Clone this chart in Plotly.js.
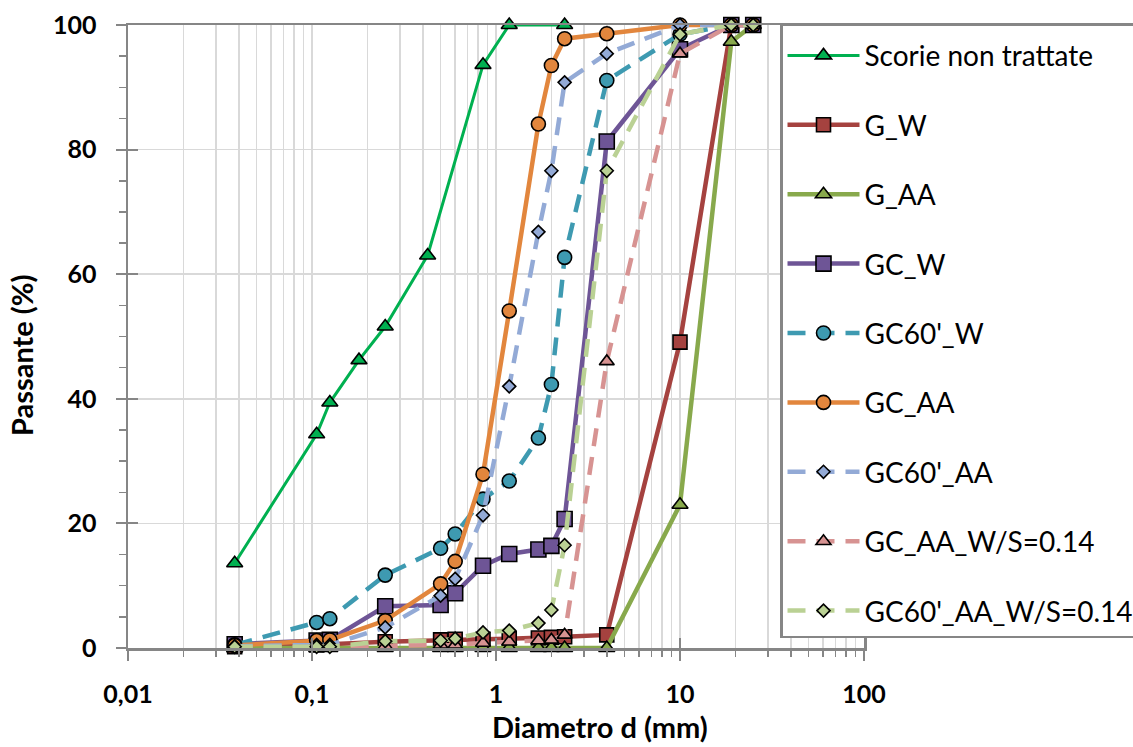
<!DOCTYPE html>
<html>
<head>
<meta charset="utf-8">
<script src="https://cdn.plot.ly/plotly-3.0.1.min.js"></script>
<style>
  html, body { margin: 0; padding: 0; background: #fff; }
  #chart { width: 1133px; height: 747px; }
</style>
</head>
<body>
<div id="chart"></div>
<script>
// ---- data (diameter in mm, passante in %) ----
const seriesNames = ["Scorie non trattate", "G_W", "G_AA", "GC_W", "GC60'_W", "GC_AA", "GC60'_AA", "GC_AA_W/S=0.14", "GC60'_AA_W/S=0.14"];

const dScorie = [0.038, 0.106, 0.125, 0.18, 0.25, 0.425, 0.85, 1.18, 2.36];
const pScorie = [13.6, 34.3, 39.4, 46.2, 51.6, 63.0, 93.6, 100, 100];

const dSieve = [0.038, 0.106, 0.125, 0.25, 0.5, 0.6, 0.85, 1.18, 1.7, 2, 2.36, 4, 10, 19, 25];
const pG_W      = [0.2, 0.5, 0.6, 1.0, 1.3, 1.4, 1.4, 1.5, 1.6, 1.7, 1.8, 2.1, 49.1, 100, 100];
const pG_AA     = [0, 0, 0, 0, 0, 0, 0, 0, 0, 0, 0, 0, 23.0, 97.3, 100];
const pGC_W     = [0.6, 1.2, 1.3, 6.7, 6.9, 8.8, 13.2, 15.1, 15.8, 16.4, 20.7, 81.3, 96.1, 100, 100];
const pGC60_W   = [0.5, 4.1, 4.7, 11.7, 16.0, 18.3, 23.9, 26.8, 33.7, 42.3, 62.7, 91.1, 98.5, 100, 100];
const pGC_AA    = [0.4, 1.2, 1.3, 4.4, 10.3, 13.9, 27.9, 54.1, 84.1, 93.5, 97.8, 98.6, 100, 100, 100];
const pGC60_AA  = [0.3, 0.5, 0.5, 3.3, 8.4, 11.1, 21.3, 42.0, 66.8, 76.6, 90.8, 95.4, 100, 100, 100];
const pGC_AA_WS = [0, 0.2, 0.2, 0.3, 0.5, 0.5, 0.8, 1.0, 1.2, 1.3, 2.1, 46.0, 95.4, 100, 100];
const pGC60_AA_WS = [0.2, 0.2, 0.2, 1.1, 1.2, 1.5, 2.5, 2.8, 4.0, 6.1, 16.5, 76.6, 98.5, 100, 100];

// ---- axis ticks ----
const xTickVals = [0.01, 0.1, 1, 10, 100];
const xTickText = ["0,01", "0,1", "1", "10", "100"];
const yTickVals = [0, 20, 40, 60, 80, 100];
const yTickText = ["0", "20", "40", "60", "80", "100"];
const xMinorMult = [2, 3, 4, 5, 6, 7, 8, 9];

const xMinorVals = [];
[0.01, 0.1, 1, 10].forEach(dec => xMinorMult.forEach(m => xMinorVals.push(+(dec * m).toPrecision(3))));

// ---- styles ----
const styles = [
  {color: "#00B050", fill: "#00B050", symbol: "triangle-up", size: 14, width: 3, dash: "solid"},
  {color: "#A5423F", fill: "#A5423F", symbol: "square", size: 14, width: 4.5, dash: "solid"},
  {color: "#88A94C", fill: "#88A94C", symbol: "triangle-up", size: 14, width: 4.5, dash: "solid"},
  {color: "#6E5596", fill: "#6E5596", symbol: "square", size: 15, width: 4.5, dash: "solid"},
  {color: "#3E9AB1", fill: "#3E9AB1", symbol: "circle", size: 14, width: 4.5, dash: "18px,11px"},
  {color: "#E2863D", fill: "#E2863D", symbol: "circle", size: 14, width: 4.5, dash: "solid"},
  {color: "#93AAD6", fill: "#93AAD6", symbol: "diamond", size: 10, width: 4.5, dash: "18px,11px"},
  {color: "#D79392", fill: "#D79392", symbol: "triangle-up", size: 13, width: 4.5, dash: "18px,11px"},
  {color: "#BAD194", fill: "#BAD194", symbol: "diamond", size: 10, width: 4.5, dash: "18px,11px"}
];

const xs = [dScorie, dSieve, dSieve, dSieve, dSieve, dSieve, dSieve, dSieve, dSieve];
const ys = [pScorie, pG_W, pG_AA, pGC_W, pGC60_W, pGC_AA, pGC60_AA, pGC_AA_WS, pGC60_AA_WS];

const traces = seriesNames.map((name, i) => ({
  type: "scatter",
  mode: "lines+markers",
  name: name,
  x: xs[i],
  y: ys[i],
  legendgroup: "g" + i,
  cliponaxis: false,
  line: {color: styles[i].color, width: styles[i].width, dash: styles[i].dash},
  marker: {symbol: styles[i].symbol, size: styles[i].size, color: styles[i].fill,
           line: {color: "#000000", width: 1.6}}
}));

// helper trace for overlay axes (inside major ticks)
traces.push({type: "scatter", x: [], y: [], xaxis: "x2", yaxis: "y2", showlegend: false, hoverinfo: "skip"});

const AX = "#868686";
const GRID = "#D9D9D9";
const tickFont = {family: "Lato, 'Liberation Sans', sans-serif", size: 25, color: "#000", weight: 700};
const titleFont = {family: "Lato, 'Liberation Sans', sans-serif", size: 29, color: "#000", weight: 700};

const layout = {
  width: 1133,
  height: 747,
  paper_bgcolor: "#ffffff",
  plot_bgcolor: "#ffffff",
  margin: {l: 128, r: 269, t: 25, b: 99, pad: 0, autoexpand: false},
  showlegend: true,
  xaxis: {
    type: "log",
    range: [-2, 2],
    tickmode: "array",
    tickvals: xTickVals,
    ticktext: xTickText,
    ticks: "outside",
    ticklen: 10,
    tickwidth: 2,
    tickcolor: AX,
    ticklabelstandoff: 12,
    tickfont: tickFont,
    showgrid: true,
    gridcolor: GRID,
    gridwidth: 1.5,
    minor: {tickmode: "array", tickvals: xMinorVals, ticks: "outside", ticklen: 6, tickwidth: 1.5,
            tickcolor: AX, showgrid: true, gridcolor: GRID, gridwidth: 1.5},
    showline: true,
    linecolor: AX,
    linewidth: 2.5,
    mirror: true,
    zeroline: false,
    automargin: false
  },
  yaxis: {
    range: [0, 100],
    tickmode: "array",
    tickvals: yTickVals,
    ticktext: yTickText,
    ticks: "outside",
    ticklen: 10,
    tickwidth: 2,
    tickcolor: AX,
    ticklabelstandoff: 14,
    tickfont: tickFont,
    showgrid: true,
    gridcolor: GRID,
    gridwidth: 1.5,
    minor: {dtick: 5, ticks: "outside", ticklen: 7, tickwidth: 1.5, tickcolor: AX, showgrid: false},
    showline: true,
    linecolor: AX,
    linewidth: 2.5,
    mirror: true,
    zeroline: false,
    automargin: false
  },
  xaxis2: {
    type: "log", range: [-2, 2], overlaying: "x", anchor: "y2", side: "bottom",
    tickmode: "array", tickvals: xTickVals, ticks: "inside", ticklen: 10, tickwidth: 2, tickcolor: AX,
    showticklabels: false, showgrid: false, zeroline: false, showline: false
  },
  yaxis2: {
    range: [0, 100], overlaying: "y", anchor: "x2", side: "left",
    tickmode: "array", tickvals: yTickVals, ticks: "inside", ticklen: 10, tickwidth: 2, tickcolor: AX,
    showticklabels: false, showgrid: false, zeroline: false, showline: false
  },
  legend: {
    x: (780 - 128) / 736,
    y: (648 - 23) / 623,
    xanchor: "left",
    yanchor: "top",
    maxheight: 740,
    bgcolor: "#ffffff",
    bordercolor: AX,
    borderwidth: 2.5,
    font: {family: "Lato, 'Open Sans', sans-serif", size: 28, color: "#000"},
    title: {text: "&nbsp;", font: {size: 4}},
    tracegroupgap: 30,
    itemwidth: 72,
    itemsizing: "trace"
  },
  annotations: [
    {text: "Passante (%)", xref: "paper", yref: "paper", x: (22 - 128) / 736, y: (648 - 356) / 623,
     textangle: -90, showarrow: false, xanchor: "center", yanchor: "middle", font: titleFont},
    {text: "Diametro d (mm)", xref: "paper", yref: "paper", x: (600 - 128) / 736, y: (648 - 746) / 623,
     showarrow: false, xanchor: "center", yanchor: "bottom", font: titleFont}
  ]
};

Plotly.newPlot("chart", traces, layout, {displayModeBar: false, staticPlot: true});
</script>
</body>
</html>
